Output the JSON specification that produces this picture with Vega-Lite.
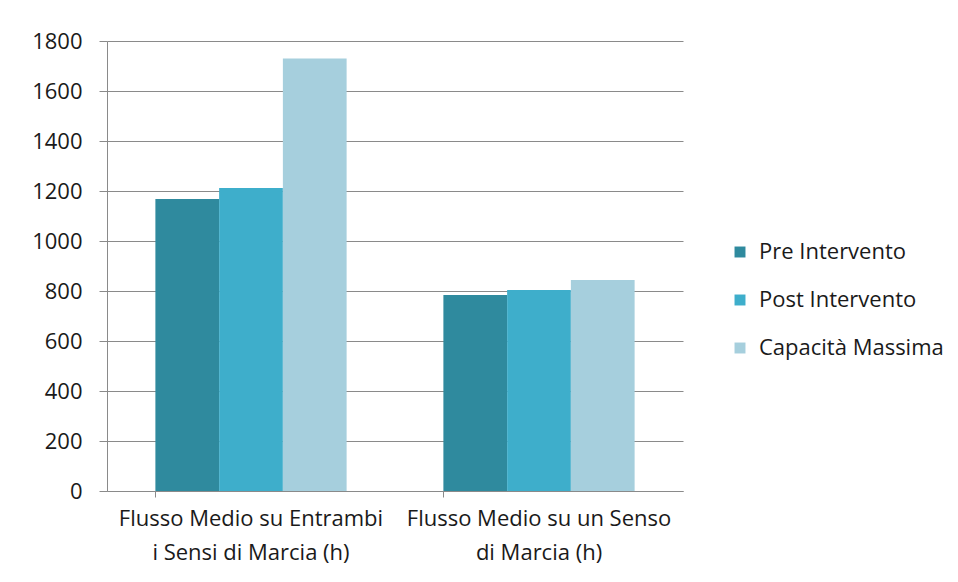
{
  "$schema": "https://vega.github.io/schema/vega-lite/v6.json",
  "width": 576,
  "height": 450,
  "autosize": {"type": "none"},
  "padding": {"left": 107, "top": 41, "right": 275, "bottom": 91},
  "background": "white",
  "config": {
    "view": {"stroke": null},
    "font": "Open Sans"
  },
  "data": {
    "values": [
      {"categoria": "Flusso Medio su Entrambi i Sensi di Marcia (h)", "serie": "Pre Intervento", "valore": 1168},
      {"categoria": "Flusso Medio su Entrambi i Sensi di Marcia (h)", "serie": "Post Intervento", "valore": 1212},
      {"categoria": "Flusso Medio su Entrambi i Sensi di Marcia (h)", "serie": "Capacità Massima", "valore": 1730},
      {"categoria": "Flusso Medio su un Senso di Marcia (h)", "serie": "Pre Intervento", "valore": 784},
      {"categoria": "Flusso Medio su un Senso di Marcia (h)", "serie": "Post Intervento", "valore": 804},
      {"categoria": "Flusso Medio su un Senso di Marcia (h)", "serie": "Capacità Massima", "valore": 844}
    ]
  },
  "mark": {"type": "bar"},
  "encoding": {
    "x": {
      "field": "categoria",
      "type": "nominal",
      "sort": null,
      "scale": {"paddingInner": 0.336, "paddingOuter": 0.168},
      "axis": {
        "title": null,
        "labelAngle": 0,
        "labelFontSize": 22,
        "labelColor": "#1a1a1a",
        "labelLineHeight": 34,
        "labelPadding": 11,
        "labelLimit": 0,
        "labelExpr": "datum.value == 'Flusso Medio su Entrambi i Sensi di Marcia (h)' ? ['Flusso Medio su Entrambi', 'i Sensi di Marcia (h)'] : ['Flusso Medio su un Senso', 'di Marcia (h)']",
        "domainColor": "#8a8a8a",
        "tickColor": "#8a8a8a",
        "tickSize": 6,
        "bandPosition": 0,
        "labelBound": false,
        "labelOverlap": false
      }
    },
    "xOffset": {
      "field": "serie",
      "type": "nominal",
      "sort": ["Pre Intervento", "Post Intervento", "Capacità Massima"],
      "scale": {"paddingInner": 0, "paddingOuter": 0}
    },
    "y": {
      "field": "valore",
      "type": "quantitative",
      "scale": {"domain": [0, 1800], "nice": false},
      "axis": {
        "title": null,
        "values": [0, 200, 400, 600, 800, 1000, 1200, 1400, 1600, 1800],
        "format": "d",
        "labelFontSize": 22,
        "labelColor": "#1a1a1a",
        "labelPadding": 17,
        "tickSize": 8,
        "tickColor": "#8a8a8a",
        "domainColor": "#8a8a8a",
        "gridColor": "#8a8a8a",
        "gridWidth": 1
      }
    },
    "color": {
      "field": "serie",
      "type": "nominal",
      "sort": ["Pre Intervento", "Post Intervento", "Capacità Massima"],
      "scale": {
        "domain": ["Pre Intervento", "Post Intervento", "Capacità Massima"],
        "range": ["#2f8a9e", "#3eaecb", "#a6cfdd"]
      },
      "legend": {
        "title": null,
        "orient": "none",
        "legendX": 622,
        "legendY": 200,
        "padding": 0,
        "symbolType": "square",
        "symbolSize": 120,
        "labelFontSize": 22,
        "labelColor": "#1a1a1a",
        "labelLimit": 0,
        "rowPadding": 26,
        "labelOffset": 8
      }
    }
  }
}
